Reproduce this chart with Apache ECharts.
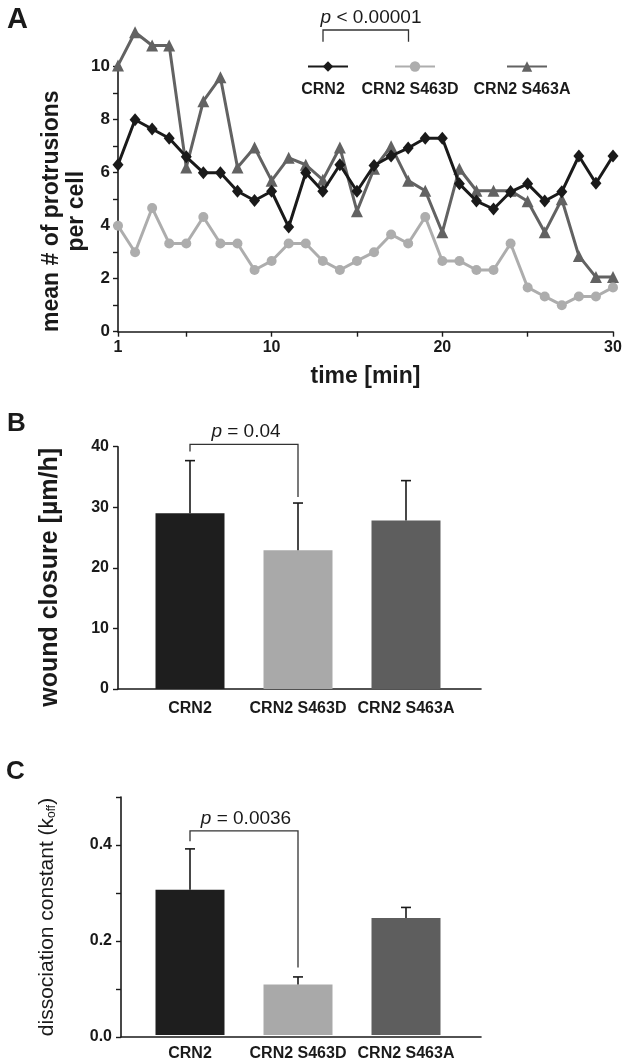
<!DOCTYPE html>
<html>
<head>
<meta charset="utf-8">
<script src="https://cdn.jsdelivr.net/npm/echarts@6/dist/echarts.min.js"></script>
<style>
html,body{margin:0;padding:0;background:#fff;}
#chart{width:630px;height:1062px;}
</style>
</head>
<body>
<div id="chart"></div>
<script>
// ---------- DATA ----------
const timeLabels = ['1','2','3','4','5','6','7','8','9','10','11','12','13','14','15','16','17','18','19','20','21','22','23','24','25','26','27','28','29','30'];
const crn2Protrusions  = [6.3, 8.0, 7.65, 7.3, 6.6, 6.0, 6.0, 5.3, 4.95, 5.3, 3.95, 6.0, 5.3, 6.3, 5.3, 6.27, 6.63, 6.93, 7.3, 7.3, 5.58, 4.93, 4.63, 5.28, 5.58, 4.93, 5.28, 6.63, 5.6, 6.63];
const s463dProtrusions = [4.0, 3.0, 4.67, 3.33, 3.33, 4.33, 3.33, 3.33, 2.33, 2.67, 3.33, 3.33, 2.67, 2.33, 2.67, 3.0, 3.67, 3.33, 4.33, 2.67, 2.67, 2.33, 2.33, 3.33, 1.67, 1.33, 1.0, 1.33, 1.33, 1.67];
const s463aProtrusions = [10.05, 11.3, 10.8, 10.8, 6.2, 8.7, 9.6, 6.2, 6.95, 5.7, 6.56, 6.3, 5.73, 6.95, 4.55, 6.15, 7.0, 5.7, 5.32, 3.75, 6.15, 5.32, 5.32, 5.32, 4.92, 3.75, 5.0, 2.86, 2.06, 2.06];
const groups = ['CRN2', 'CRN2 S463D', 'CRN2 S463A'];
const woundMean = [29.0, 22.9, 27.8];
const woundSD   = [8.7, 7.8, 6.6];
const koffMean  = [0.305, 0.106, 0.246];
const koffSD    = [0.086, 0.016, 0.022];
const pTexts    = ['< 0.00001', '= 0.04', '= 0.0036'];
const yTicksA = [0, 2, 4, 6, 8, 10];

// ---------- STYLE ----------
const FONT = 'Liberation Sans, Arial, sans-serif';
const INK = '#1a1a1a';
const groupColors = ['#1e1e1e', '#a9a9a9', '#5e5e5e'];
const lineColors = ['#1a1a1a', '#adadad', '#626262'];

const chart = echarts.init(document.getElementById('chart'), null, {renderer: 'canvas'});

const axisLineStyle = {show: true, lineStyle: {color: INK, width: 1.6}};
const tickStyle = {show: true, inside: false, length: 5, lineStyle: {color: INK, width: 1.4}};
const boldLabel = (size, margin) => ({color: INK, fontFamily: FONT, fontWeight: 'bold', fontSize: size, margin: margin});

function errorRender(params, api) {
  const i = api.value(0), m = api.value(1), e = api.value(2);
  const base = api.coord([i, m]);
  const top = api.coord([i, m + e]);
  const hw = 5;
  const st = {stroke: INK, lineWidth: 1.6};
  return {type: 'group', children: [
    {type: 'line', shape: {x1: base[0], y1: base[1], x2: top[0], y2: top[1]}, style: st},
    {type: 'line', shape: {x1: top[0] - hw, y1: top[1], x2: top[0] + hw, y2: top[1]}, style: st}
  ]};
}
function bracketRender(pText) {
  return function (params, api) {
    const a = api.coord([api.value(0), api.value(2)]);
    const b = api.coord([api.value(0), api.value(3)]);
    const c = api.coord([api.value(1), api.value(3)]);
    const d = api.coord([api.value(1), api.value(4)]);
    return {type: 'group', children: [
      {type: 'polyline', shape: {points: [a, b, c, d]}, style: {stroke: '#333', lineWidth: 1.3, fill: null}},
      {type: 'text', x: (b[0] + c[0]) / 2 + 2, y: b[1] - 3, style: {
        text: '{i|p} ' + pText, fill: INK, font: '19px ' + FONT, align: 'center', verticalAlign: 'bottom',
        rich: {i: {fontStyle: 'italic', fontSize: 19, fontFamily: FONT, fill: INK}}
      }}
    ]};
  };
}

const gridA = {left: 118, top: 66.7, width: 495, height: 265};
const gridB = {left: 118, top: 446.7, width: 363, height: 242.3};
const gridBb = {left: 136, top: 446.7, width: 324, height: 242.3};
const gridC = {left: 121, top: 797, width: 360, height: 240};
const gridCb = {left: 136, top: 797, width: 324, height: 240};

const tickIdxA = [0, 4, 9, 14, 19, 24, 29];
const labelIdxA = [0, 9, 19, 29];

const option = {
  animation: false,
  backgroundColor: '#fff',
  title: [
    {text: 'A', left: 2, top: 0, textStyle: {fontSize: 29, fontWeight: 'bold', fontFamily: FONT, color: INK}},
    {text: 'B', left: 2, top: 406, textStyle: {fontSize: 26, fontWeight: 'bold', fontFamily: FONT, color: INK}},
    {text: 'C', left: 1, top: 754, textStyle: {fontSize: 26, fontWeight: 'bold', fontFamily: FONT, color: INK}}
  ],
  legend: [
    {data: ['CRN2'], left: 302, top: 55, itemWidth: 40, itemHeight: 13, formatter: () => '', selectedMode: false},
    {data: ['CRN2 S463D'], left: 389, top: 55, itemWidth: 40, itemHeight: 13, formatter: () => '', selectedMode: false},
    {data: ['CRN2 S463A'], left: 501, top: 55, itemWidth: 40, itemHeight: 13, formatter: () => '', selectedMode: false}
  ],
  graphic: [
    {type: 'polyline', shape: {points: [[323, 41.7], [323, 30], [408.5, 30], [408.5, 41.7]]}, style: {stroke: '#333', lineWidth: 1.3, fill: null}},
    {type: 'text', x: 371, y: 27, style: {text: '{i|p} ' + pTexts[0], fill: INK, font: '19px ' + FONT, align: 'center', verticalAlign: 'bottom',
      rich: {i: {fontStyle: 'italic', fontSize: 19, fontFamily: FONT, fill: INK}}}},
    {type: 'text', x: 323, y: 90, style: {text: groups[0], fill: INK, font: 'bold 16px ' + FONT, align: 'center', verticalAlign: 'middle'}},
    {type: 'text', x: 410, y: 90, style: {text: groups[1], fill: INK, font: 'bold 16px ' + FONT, align: 'center', verticalAlign: 'middle'}},
    {type: 'text', x: 522, y: 90, style: {text: groups[2], fill: INK, font: 'bold 16px ' + FONT, align: 'center', verticalAlign: 'middle'}}
  ],
  grid: [gridA, gridB, gridBb, gridC, gridCb],
  xAxis: [
    {gridIndex: 0, type: 'category', data: timeLabels, boundaryGap: false,
      axisLine: axisLineStyle,
      axisTick: Object.assign({}, tickStyle, {interval: (i) => tickIdxA.indexOf(i) >= 0}),
      axisLabel: Object.assign(boldLabel(16, 8), {interval: (i) => labelIdxA.indexOf(i) >= 0}),
      splitLine: {show: false},
      name: 'time [min]', nameLocation: 'middle', nameGap: 33, nameMoveOverlap: false,
      nameTextStyle: {fontSize: 23, fontWeight: 'bold', fontFamily: FONT, color: INK}},
    {gridIndex: 1, type: 'category', data: groups, axisLine: axisLineStyle, axisTick: {show: false}, axisLabel: {show: false}},
    {gridIndex: 2, type: 'category', data: groups, axisLine: {show: false}, axisTick: {show: false},
      axisLabel: Object.assign(boldLabel(16, 12), {interval: 0, hideOverlap: false})},
    {gridIndex: 3, type: 'category', data: groups, axisLine: axisLineStyle, axisTick: {show: false}, axisLabel: {show: false}},
    {gridIndex: 4, type: 'category', data: groups, axisLine: {show: false}, axisTick: {show: false},
      axisLabel: Object.assign(boldLabel(16, 11), {interval: 0, hideOverlap: false})}
  ],
  yAxis: [
    {gridIndex: 0, type: 'value', min: 0, max: 10, interval: 1,
      axisLine: axisLineStyle, axisTick: tickStyle, splitLine: {show: false},
      axisLabel: Object.assign(boldLabel(17, 8), {formatter: (v) => yTicksA.indexOf(v) >= 0 ? String(v) : ''}),
      name: 'mean # of protrusions\nper cell', nameLocation: 'middle', nameGap: 29, nameMoveOverlap: false,
      nameTextStyle: {fontSize: 23, fontWeight: 'bold', fontFamily: FONT, color: INK, lineHeight: 25, padding: [0, 24, 0, 0]}},
    {gridIndex: 1, type: 'value', min: 0, max: 40, interval: 10,
      axisLine: axisLineStyle, axisTick: tickStyle, splitLine: {show: false},
      axisLabel: boldLabel(16, 9),
      name: 'wound closure [µm/h]', nameLocation: 'middle', nameGap: 55, nameMoveOverlap: false,
      nameTextStyle: {fontSize: 25, fontWeight: 'bold', fontFamily: FONT, color: INK, lineHeight: 25, padding: [0, 19, 0, 0]}},
    {gridIndex: 2, type: 'value', min: 0, max: 40, show: false, splitLine: {show: false}},
    {gridIndex: 3, type: 'value', min: 0, max: 0.5, interval: 0.1,
      axisLine: axisLineStyle, axisTick: tickStyle, splitLine: {show: false},
      axisLabel: Object.assign(boldLabel(16, 9), {formatter: (v) => (Math.round(v * 10) % 2 === 0 && v < 0.45) ? v.toFixed(1) : ''}),
      name: '{a|dissociation constant (k}{s|off}{a|)}', nameLocation: 'middle', nameGap: 63, nameMoveOverlap: false,
      nameTextStyle: {color: INK, lineHeight: 22,
        rich: {a: {fontSize: 21, fontFamily: FONT, color: INK, lineHeight: 22},
               s: {fontSize: 12, fontFamily: FONT, color: INK, verticalAlign: 'bottom', lineHeight: 22}}}},
    {gridIndex: 4, type: 'value', min: 0, max: 0.5, show: false, splitLine: {show: false}}
  ],
  series: [
    {name: 'CRN2 S463A', type: 'line', xAxisIndex: 0, yAxisIndex: 0, data: s463aProtrusions, clip: false, z: 2,
      symbol: 'triangle', symbolSize: 12, showAllSymbol: true,
      lineStyle: {color: lineColors[2], width: 3}, itemStyle: {color: lineColors[2]}},
    {name: 'CRN2 S463D', type: 'line', xAxisIndex: 0, yAxisIndex: 0, data: s463dProtrusions, clip: false, z: 3,
      symbol: 'circle', symbolSize: 10, showAllSymbol: true,
      lineStyle: {color: lineColors[1], width: 3}, itemStyle: {color: lineColors[1]}},
    {name: 'CRN2', type: 'line', xAxisIndex: 0, yAxisIndex: 0, data: crn2Protrusions, clip: false, z: 4,
      symbol: 'diamond', symbolSize: [11, 13], showAllSymbol: true,
      lineStyle: {color: lineColors[0], width: 3}, itemStyle: {color: lineColors[0]}},

    {type: 'bar', xAxisIndex: 2, yAxisIndex: 2, barWidth: 69, z: 2,
      data: woundMean.map((v, i) => ({value: v, itemStyle: {color: groupColors[i]}}))},
    {type: 'custom', xAxisIndex: 2, yAxisIndex: 2, z: 3, renderItem: errorRender,
      encode: {x: 0, y: 1}, data: woundMean.map((v, i) => [i, v, woundSD[i]])},
    {type: 'custom', xAxisIndex: 2, yAxisIndex: 2, z: 3, renderItem: bracketRender(pTexts[1]),
      encode: {x: 0, y: 3}, data: [[0, 1, 39.2, 40.4, 31.7]]},

    {type: 'bar', xAxisIndex: 4, yAxisIndex: 4, barWidth: 69, z: 2,
      data: koffMean.map((v, i) => ({value: v, itemStyle: {color: groupColors[i]}}))},
    {type: 'custom', xAxisIndex: 4, yAxisIndex: 4, z: 3, renderItem: errorRender,
      encode: {x: 0, y: 1}, data: koffMean.map((v, i) => [i, v, koffSD[i]])},
    {type: 'custom', xAxisIndex: 4, yAxisIndex: 4, z: 3, renderItem: bracketRender(pTexts[2]),
      encode: {x: 0, y: 3}, data: [[0, 1, 0.407, 0.429, 0.142]]}
  ]
};
chart.setOption(option);
</script>
</body>
</html>
